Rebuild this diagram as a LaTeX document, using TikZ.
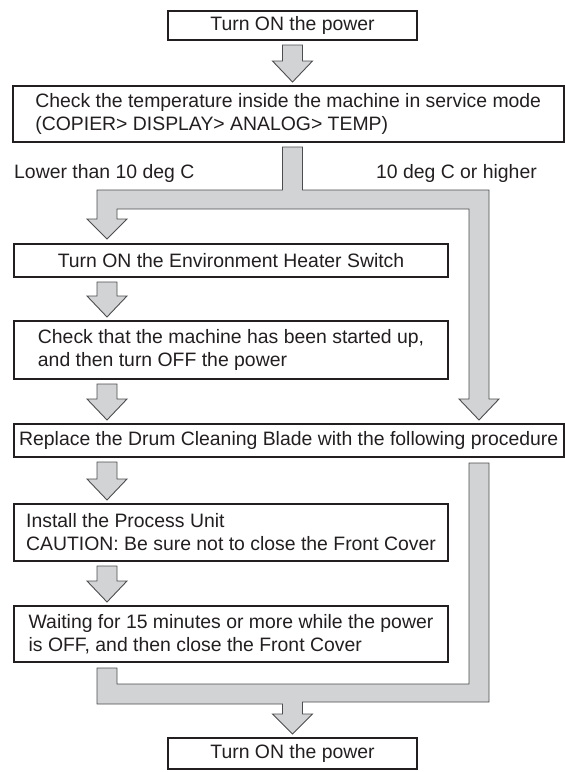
\documentclass[tikz,border=0pt]{standalone}
\usepackage{fontspec}
\setmainfont{Liberation Sans}
\usepackage{tikz}
\usetikzlibrary{calc}
\definecolor{ink}{HTML}{231F20}
\definecolor{flowgray}{HTML}{D1D3D4}
\definecolor{edgegray}{HTML}{4D4D4F}
\tikzset{
  every node/.style={font=\fontsize{19.4}{23}\selectfont,text=ink},
  box/.style={draw=ink,line width=2pt,fill=white,align=left,inner sep=0pt,minimum width=434,minimum height=33},
  blockarr/.style={draw=edgegray,line width=0.9pt,fill=flowgray,line join=miter},
  lbl/.style={inner sep=0pt}
}
% straight block arrow: from node, to node, column coordinate
\newcommand{\blockarrow}[3]{%
  \draw[blockarr] ($(#1.south -| #3)+(-10,4)$) -- ($(#1.south -| #3)+(10,4)$)
    -- ($(#2.north -| #3)+(10,-24)$) -- ($(#2.north -| #3)+(20,-24)$)
    -- ($(#2.north -| #3)+(0,-3)$) -- ($(#2.north -| #3)+(-20,-24)$)
    -- ($(#2.north -| #3)+(-10,-24)$) -- cycle;}

\begin{document}
\begin{tikzpicture}[x=1pt,y=-1pt]
  \useasboundingbox (0,0) rectangle (565,772);

  \node[box,minimum width=249,minimum height=29] (pwron) at (292.5,25.5) {Turn ON the power};
  \node[box,minimum width=550.5,minimum height=56] (check) at (288.25,114) {Check the temperature inside the machine in service mode\\(COPIER> DISPLAY> ANALOG> TEMP)};
  \node[box] (heater) at (231,260.5) {Turn ON the Environment Heater Switch};
  \node[box,minimum height=58] (started) at (231,350) {Check that the machine has been started up,\\and then turn OFF the power};
  \node[box,minimum width=549.5] (replace) at (288.75,440.5) {Replace the Drum Cleaning Blade with the following procedure};
  \node[box,minimum height=57] (install) at (231,532.5) {Install the Process Unit\\CAUTION: Be sure not to close the Front Cover};
  \node[box,minimum height=56] (wait) at (231,634) {Waiting for 15 minutes or more while the power\\is OFF, and then close the Front Cover};
  \node[box,minimum width=249,minimum height=31] (pwrend) at (292.5,753.5) {Turn ON the power};

  \node[lbl,anchor=base west] (lower) at (14,178) {Lower than 10 deg C};
  \node[lbl,anchor=base east] (higher) at (537,178) {10 deg C or higher};

  \coordinate (colL) at (107,0);
  \coordinate (colM) at (292.5,0);
  \coordinate (colR) at (479,0);

  \blockarrow{pwron}{check}{colM}
  \blockarrow{heater}{started}{colL}
  \blockarrow{started}{replace}{colL}
  \blockarrow{replace}{install}{colL}
  \blockarrow{install}{wait}{colL}

  % branch after the temperature check
  \coordinate (f0) at ($(check.south -| colM)+(-10,4)$);
  \coordinate (f1) at ($(f0)+(0,43)$);
  \draw[blockarr] (f0) -- (f1)
    -| ($(heater.north -| colL)+(-10,-24)$)
    -- ++(-10,0) -- ($(heater.north -| colL)+(0,-4)$) -- ++(20,-20) -- ++(-10,0)
    -- ++(0,-10)
    -| ($(replace.north -| colR)+(-10,-24)$)
    -- ++(-10,0) -- ($(replace.north -| colR)+(0,-3)$) -- ++(20,-21) -- ++(-10,0)
    |- ($(f1)+(20,0)$) -- ($(f0)+(20,0)$) -- cycle;

  % join before the final power on
  \coordinate (m0) at ($(wait.south -| colL)+(-10,5)$);
  \draw[blockarr] (m0) -- ++(0,36)
    -| ($(pwrend.north)+(-10,-23)$)
    -- ++(-10,0) -- ($(pwrend.north)+(0,-3)$) -- ++(20,-20) -- ++(-10,0) -- ++(0,-12)
    -| ($(replace.south -| colR)+(10,5)$)
    -- ++(-20,0) |- ($(m0)+(20,16)$) -- ($(m0)+(20,0)$) -- cycle;
\end{tikzpicture}
\end{document}
